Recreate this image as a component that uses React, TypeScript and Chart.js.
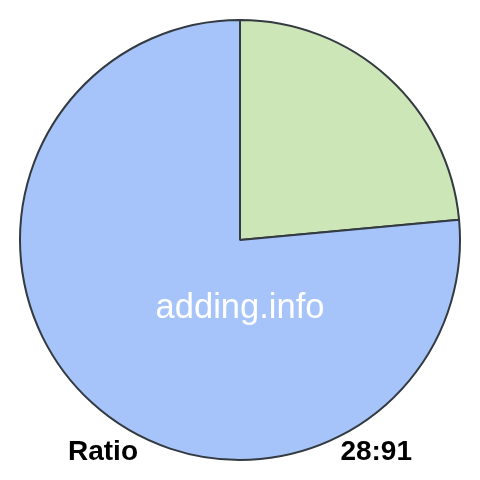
import { useEffect, useRef } from 'react';
import { Chart, registerables } from 'chart.js';
import type { Plugin } from 'chart.js';

Chart.register(...registerables);

const labels = ['28', '91'];
const values = [28, 91];
const colors = ['#cde6b7', '#a6c4fa'];
const centerText = 'adding.info';
const leftText = 'Ratio';
const rightText = '28:91';

const textPlugin: Plugin<'pie'> = {
  id: 'ratioText',
  afterDraw(chart) {
    const { ctx } = chart;
    ctx.save();
    ctx.fillStyle = '#ffffff';
    ctx.font = '34.5px Arial, "Liberation Sans", sans-serif';
    ctx.textAlign = 'center';
    ctx.textBaseline = 'alphabetic';
    ctx.fillText(centerText, 240, 318);

    ctx.fillStyle = '#000000';
    ctx.font = 'bold 28px Arial, "Liberation Sans", sans-serif';
    ctx.textAlign = 'left';
    ctx.fillText(leftText, 68, 460);
    ctx.textAlign = 'right';
    ctx.fillText(rightText, 412, 460);
    ctx.restore();
  },
};

export default function App() {
  const chartRef = useRef<HTMLCanvasElement>(null);
  const chartInstance = useRef<Chart<'pie'> | null>(null);

  useEffect(() => {
    document.body.style.margin = '0';
    if (!chartRef.current) return;
    if (chartInstance.current) chartInstance.current.destroy();

    chartInstance.current = new Chart(chartRef.current, {
      type: 'pie',
      data: {
        labels,
        datasets: [{
          data: values,
          backgroundColor: colors,
          borderColor: '#333a40',
          borderWidth: 2,
        }],
      },
      options: {
        responsive: false,
        animation: false,
        layout: { padding: 19 },
        plugins: {
          legend: { display: false },
          tooltip: { enabled: false },
        },
      },
      plugins: [textPlugin],
    });

    return () => {
      if (chartInstance.current) {
        chartInstance.current.destroy();
        chartInstance.current = null;
      }
    };
  }, []);

  return (
    <div style={{ width: 480, height: 480 }}>
      <canvas ref={chartRef} width={480} height={480} />
    </div>
  );
}
